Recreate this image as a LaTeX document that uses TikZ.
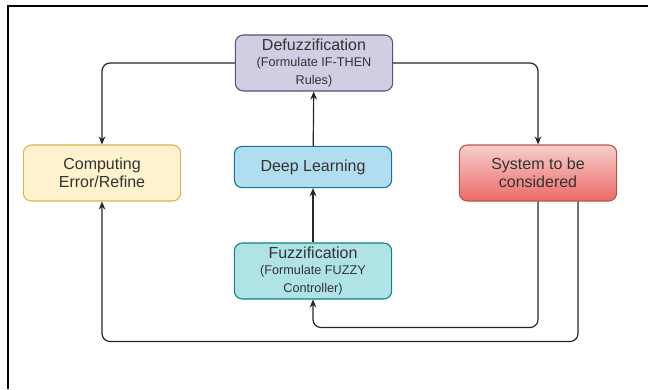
\documentclass[tikz,border=0pt]{standalone}
\usepackage{fontspec}
\setmainfont{Liberation Sans}
\usetikzlibrary{positioning, arrows.meta}

\definecolor{defuzfill}{HTML}{D0CEE2}
\definecolor{defuzline}{HTML}{56517E}
\definecolor{compfill}{HTML}{FFF2CC}
\definecolor{compline}{HTML}{D6B656}
\definecolor{deepfill}{HTML}{B1DDF0}
\definecolor{deepline}{HTML}{10739E}
\definecolor{sysfilltop}{HTML}{F8CECC}
\definecolor{sysfillbot}{HTML}{EA6B66}
\definecolor{sysline}{HTML}{B85450}
\definecolor{fuzfill}{HTML}{B0E3E6}
\definecolor{fuzline}{HTML}{0E8088}
\definecolor{textgray}{HTML}{333333}

\begin{document}
\begin{tikzpicture}[
    x=0.75pt,
    y=-0.75pt,
    >={Stealth[length=6pt, width=5pt]},
    block/.style={rectangle, rounded corners=6pt, draw, line width=0.8pt,
                  minimum width=118pt, minimum height=42pt, inner sep=1pt,
                  align=center, text=textgray, font=\fontsize{12}{13.5}\selectfont},
    link/.style={->, line width=0.9pt, rounded corners=6pt, color=black!85}
]
\useasboundingbox (0,0) rectangle (648,389);

%---------------- Frame ----------------
\draw[line width=1.5pt] (8,389) -- (8,6) -- (648,6);

%---------------- Blocks ----------------
\node[block, fill=defuzfill, draw=defuzline] (defuz) at (314,63)
    {Defuzzification\\[-1pt]{\fontsize{9.5}{10.5}\selectfont (Formulate IF-THEN}\\{\fontsize{9.5}{10.5}\selectfont Rules)}};
\node[block, fill=compfill, draw=compline] (comp) at (102,173)
    {Computing\\Error/Refine};
\node[block, fill=deepfill, draw=deepline, minimum height=31pt] (deep) at (313,167)
    {Deep Learning};
\node[block, top color=sysfilltop, bottom color=sysfillbot, draw=sysline] (sys) at (538,173)
    {System to be\\considered};
\node[block, fill=fuzfill, draw=fuzline] (fuz) at (313,271)
    {Fuzzification\\[-1pt]{\fontsize{9.5}{10.5}\selectfont (Formulate FUZZY}\\{\fontsize{9.5}{10.5}\selectfont Controller)}};

%---------------- Connections ----------------
\draw[link] (fuz) -- (deep);
\draw[link] (deep) -- (defuz);
\draw[link] (defuz.west) -| (comp.north);
\draw[link] (defuz.east) -| (sys.north);
\draw[link] (sys.south) -- ++(0,126) -| (fuz.south);
\draw[link] ([xshift=30pt]sys.south) -- ++(0,140) -| (comp.south);
\end{tikzpicture}
\end{document}
